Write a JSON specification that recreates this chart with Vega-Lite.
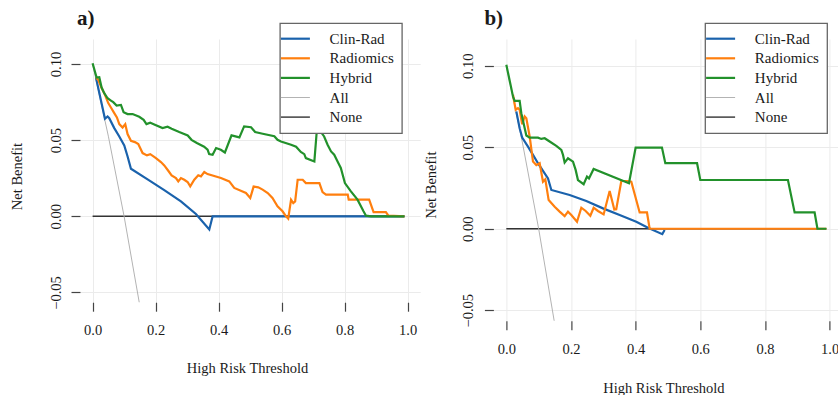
{
 "$schema": "https://vega.github.io/schema/vega-lite/v6.json",
 "padding": {"left": 9, "top": 7, "right": 0, "bottom": 0},
 "bounds": "flush",
 "spacing": 72.4,
 "config": {
  "view": {"stroke": null},
  "font": "Liberation Serif",
  "axis": {"labelFont": "Liberation Serif", "titleFont": "Liberation Serif", "labelFontSize": 14.5, "titleFontSize": 14.5, "titleFontWeight": "normal", "labelColor": "#1a1a1a", "titleColor": "#1a1a1a", "gridColor": "#ebebeb", "gridWidth": 1, "domain": false, "tickColor": "#444444", "tickSize": 9, "tickWidth": 1.2, "labelFlush": false, "labelOverlap": false},
  "legend": {"strokeWidth": 1.3, "padding": 8, "labelOffset": 26.7, "symbolOffset": 0, "rowPadding": 3.6, "strokeColor": "#666666", "fillColor": "#ffffff", "labelFont": "Liberation Serif", "labelFontSize": 15, "labelColor": "#1a1a1a", "symbolType": "stroke", "symbolSize": 841, "symbolStrokeWidth": 2.2}
 },
 "resolve": {"scale": {"x": "independent", "y": "independent", "color": "independent"}, "legend": {"color": "independent"}},
 "datasets": {
  "a": [
   {"model": "None", "t": 0, "nb": 0}, {"model": "None", "t": 0.99, "nb": 0},
   {"model": "All", "t": 0, "nb": 0.1}, {"model": "All", "t": 0.05, "nb": 0.0526}, {"model": "All", "t": 0.1, "nb": 0}, {"model": "All", "t": 0.15, "nb": -0.0588},
   {"model": "Clin-Rad", "t": 0.0106, "nb": 0.0911}, {"model": "Clin-Rad", "t": 0.0392, "nb": 0.064}, {"model": "Clin-Rad", "t": 0.0476, "nb": 0.0655}, {"model": "Clin-Rad", "t": 0.0529, "nb": 0.0644}, {"model": "Clin-Rad", "t": 0.0688, "nb": 0.0579}, {"model": "Clin-Rad", "t": 0.0847, "nb": 0.0524}, {"model": "Clin-Rad", "t": 0.1005, "nb": 0.0465}, {"model": "Clin-Rad", "t": 0.1111, "nb": 0.0393}, {"model": "Clin-Rad", "t": 0.1217, "nb": 0.0312}, {"model": "Clin-Rad", "t": 0.1746, "nb": 0.0242}, {"model": "Clin-Rad", "t": 0.2275, "nb": 0.0172}, {"model": "Clin-Rad", "t": 0.2804, "nb": 0.0098}, {"model": "Clin-Rad", "t": 0.328, "nb": 0.0015}, {"model": "Clin-Rad", "t": 0.3704, "nb": -0.0087}, {"model": "Clin-Rad", "t": 0.381, "nb": 0}, {"model": "Clin-Rad", "t": 0.99, "nb": 0},
   {"model": "Radiomics", "t": 0.0106, "nb": 0.0911}, {"model": "Radiomics", "t": 0.018, "nb": 0.0896}, {"model": "Radiomics", "t": 0.0265, "nb": 0.0852}, {"model": "Radiomics", "t": 0.0392, "nb": 0.0797}, {"model": "Radiomics", "t": 0.0497, "nb": 0.0743}, {"model": "Radiomics", "t": 0.0582, "nb": 0.0714}, {"model": "Radiomics", "t": 0.0688, "nb": 0.0677}, {"model": "Radiomics", "t": 0.0772, "nb": 0.0649}, {"model": "Radiomics", "t": 0.0847, "nb": 0.0605}, {"model": "Radiomics", "t": 0.0952, "nb": 0.0583}, {"model": "Radiomics", "t": 0.1037, "nb": 0.0605}, {"model": "Radiomics", "t": 0.111, "nb": 0.054}, {"model": "Radiomics", "t": 0.1217, "nb": 0.0496}, {"model": "Radiomics", "t": 0.1344, "nb": 0.0487}, {"model": "Radiomics", "t": 0.145, "nb": 0.0474}, {"model": "Radiomics", "t": 0.1587, "nb": 0.0415}, {"model": "Radiomics", "t": 0.1725, "nb": 0.04}, {"model": "Radiomics", "t": 0.1831, "nb": 0.0408}, {"model": "Radiomics", "t": 0.2011, "nb": 0.0382}, {"model": "Radiomics", "t": 0.2169, "nb": 0.0356}, {"model": "Radiomics", "t": 0.2275, "nb": 0.0334}, {"model": "Radiomics", "t": 0.2402, "nb": 0.0299}, {"model": "Radiomics", "t": 0.2508, "nb": 0.0269}, {"model": "Radiomics", "t": 0.2646, "nb": 0.0251}, {"model": "Radiomics", "t": 0.272, "nb": 0.0229}, {"model": "Radiomics", "t": 0.2804, "nb": 0.0251}, {"model": "Radiomics", "t": 0.291, "nb": 0.024}, {"model": "Radiomics", "t": 0.3016, "nb": 0.0225}, {"model": "Radiomics", "t": 0.31, "nb": 0.0197}, {"model": "Radiomics", "t": 0.3228, "nb": 0.024}, {"model": "Radiomics", "t": 0.3354, "nb": 0.0269}, {"model": "Radiomics", "t": 0.3439, "nb": 0.0262}, {"model": "Radiomics", "t": 0.3545, "nb": 0.0291}, {"model": "Radiomics", "t": 0.365, "nb": 0.0277}, {"model": "Radiomics", "t": 0.4074, "nb": 0.0251}, {"model": "Radiomics", "t": 0.4339, "nb": 0.0229}, {"model": "Radiomics", "t": 0.4497, "nb": 0.0186}, {"model": "Radiomics", "t": 0.4868, "nb": 0.0153}, {"model": "Radiomics", "t": 0.5005, "nb": 0.012}, {"model": "Radiomics", "t": 0.5111, "nb": 0.0195}, {"model": "Radiomics", "t": 0.526, "nb": 0.019}, {"model": "Radiomics", "t": 0.5397, "nb": 0.0175}, {"model": "Radiomics", "t": 0.556, "nb": 0.0153}, {"model": "Radiomics", "t": 0.571, "nb": 0.012}, {"model": "Radiomics", "t": 0.587, "nb": 0.0066}, {"model": "Radiomics", "t": 0.603, "nb": 0.0033}, {"model": "Radiomics", "t": 0.614, "nb": 0}, {"model": "Radiomics", "t": 0.621, "nb": -0.0015}, {"model": "Radiomics", "t": 0.63, "nb": 0.0109}, {"model": "Radiomics", "t": 0.637, "nb": 0.0087}, {"model": "Radiomics", "t": 0.643, "nb": 0.0098}, {"model": "Radiomics", "t": 0.651, "nb": 0.024}, {"model": "Radiomics", "t": 0.667, "nb": 0.024}, {"model": "Radiomics", "t": 0.677, "nb": 0.0218}, {"model": "Radiomics", "t": 0.72, "nb": 0.0218}, {"model": "Radiomics", "t": 0.73, "nb": 0.0159}, {"model": "Radiomics", "t": 0.741, "nb": 0.0142}, {"model": "Radiomics", "t": 0.81, "nb": 0.0142}, {"model": "Radiomics", "t": 0.813, "nb": 0.0109}, {"model": "Radiomics", "t": 0.878, "nb": 0.0109}, {"model": "Radiomics", "t": 0.892, "nb": 0.0028}, {"model": "Radiomics", "t": 0.931, "nb": 0.0028}, {"model": "Radiomics", "t": 0.939, "nb": 0.0004}, {"model": "Radiomics", "t": 0.99, "nb": 0},
   {"model": "Hybrid", "t": 0, "nb": 0.1005}, {"model": "Hybrid", "t": 0.0127, "nb": 0.0911}, {"model": "Hybrid", "t": 0.0212, "nb": 0.0913}, {"model": "Hybrid", "t": 0.0286, "nb": 0.0845}, {"model": "Hybrid", "t": 0.037, "nb": 0.0808}, {"model": "Hybrid", "t": 0.0476, "nb": 0.0775}, {"model": "Hybrid", "t": 0.0582, "nb": 0.076}, {"model": "Hybrid", "t": 0.0656, "nb": 0.0749}, {"model": "Hybrid", "t": 0.0762, "nb": 0.0727}, {"model": "Hybrid", "t": 0.09, "nb": 0.0731}, {"model": "Hybrid", "t": 0.0984, "nb": 0.0684}, {"model": "Hybrid", "t": 0.111, "nb": 0.0671}, {"model": "Hybrid", "t": 0.127, "nb": 0.0671}, {"model": "Hybrid", "t": 0.148, "nb": 0.0653}, {"model": "Hybrid", "t": 0.162, "nb": 0.0633}, {"model": "Hybrid", "t": 0.171, "nb": 0.0605}, {"model": "Hybrid", "t": 0.183, "nb": 0.0614}, {"model": "Hybrid", "t": 0.194, "nb": 0.0605}, {"model": "Hybrid", "t": 0.222, "nb": 0.0579}, {"model": "Hybrid", "t": 0.238, "nb": 0.0588}, {"model": "Hybrid", "t": 0.251, "nb": 0.0575}, {"model": "Hybrid", "t": 0.275, "nb": 0.0553}, {"model": "Hybrid", "t": 0.302, "nb": 0.0531}, {"model": "Hybrid", "t": 0.314, "nb": 0.0502}, {"model": "Hybrid", "t": 0.331, "nb": 0.0481}, {"model": "Hybrid", "t": 0.354, "nb": 0.0457}, {"model": "Hybrid", "t": 0.365, "nb": 0.0437}, {"model": "Hybrid", "t": 0.37, "nb": 0.0408}, {"model": "Hybrid", "t": 0.381, "nb": 0.0404}, {"model": "Hybrid", "t": 0.392, "nb": 0.0448}, {"model": "Hybrid", "t": 0.407, "nb": 0.0437}, {"model": "Hybrid", "t": 0.42, "nb": 0.0419}, {"model": "Hybrid", "t": 0.441, "nb": 0.0531}, {"model": "Hybrid", "t": 0.466, "nb": 0.0518}, {"model": "Hybrid", "t": 0.481, "nb": 0.059}, {"model": "Hybrid", "t": 0.503, "nb": 0.0585}, {"model": "Hybrid", "t": 0.516, "nb": 0.0553}, {"model": "Hybrid", "t": 0.54, "nb": 0.0542}, {"model": "Hybrid", "t": 0.577, "nb": 0.0526}, {"model": "Hybrid", "t": 0.587, "nb": 0.0502}, {"model": "Hybrid", "t": 0.598, "nb": 0.0491}, {"model": "Hybrid", "t": 0.63, "nb": 0.047}, {"model": "Hybrid", "t": 0.646, "nb": 0.0457}, {"model": "Hybrid", "t": 0.661, "nb": 0.0422}, {"model": "Hybrid", "t": 0.672, "nb": 0.0408}, {"model": "Hybrid", "t": 0.677, "nb": 0.0382}, {"model": "Hybrid", "t": 0.698, "nb": 0.0365}, {"model": "Hybrid", "t": 0.704, "nb": 0.036}, {"model": "Hybrid", "t": 0.712, "nb": 0.0568}, {"model": "Hybrid", "t": 0.72, "nb": 0.0568}, {"model": "Hybrid", "t": 0.735, "nb": 0.0524}, {"model": "Hybrid", "t": 0.746, "nb": 0.047}, {"model": "Hybrid", "t": 0.757, "nb": 0.0426}, {"model": "Hybrid", "t": 0.767, "nb": 0.0404}, {"model": "Hybrid", "t": 0.78, "nb": 0.035}, {"model": "Hybrid", "t": 0.788, "nb": 0.0317}, {"model": "Hybrid", "t": 0.801, "nb": 0.0218}, {"model": "Hybrid", "t": 0.82, "nb": 0.0164}, {"model": "Hybrid", "t": 0.841, "nb": 0.0109}, {"model": "Hybrid", "t": 0.86, "nb": 0.0033}, {"model": "Hybrid", "t": 0.868, "nb": 0.0004}, {"model": "Hybrid", "t": 0.884, "nb": 0}, {"model": "Hybrid", "t": 0.99, "nb": 0}
  ],
  "b": [
   {"model": "None", "t": 0, "nb": 0}, {"model": "None", "t": 0.99, "nb": 0},
   {"model": "All", "t": 0, "nb": 0.1}, {"model": "All", "t": 0.05, "nb": 0.0526}, {"model": "All", "t": 0.1, "nb": 0}, {"model": "All", "t": 0.15, "nb": -0.0588},
   {"model": "Clin-Rad", "t": 0.0309, "nb": 0.0719}, {"model": "Clin-Rad", "t": 0.0412, "nb": 0.0617}, {"model": "Clin-Rad", "t": 0.049, "nb": 0.0559}, {"model": "Clin-Rad", "t": 0.067, "nb": 0.0504}, {"model": "Clin-Rad", "t": 0.0825, "nb": 0.0453}, {"model": "Clin-Rad", "t": 0.0979, "nb": 0.0402}, {"model": "Clin-Rad", "t": 0.1134, "nb": 0.0355}, {"model": "Clin-Rad", "t": 0.1289, "nb": 0.0309}, {"model": "Clin-Rad", "t": 0.1392, "nb": 0.0238}, {"model": "Clin-Rad", "t": 0.1959, "nb": 0.0207}, {"model": "Clin-Rad", "t": 0.2474, "nb": 0.017}, {"model": "Clin-Rad", "t": 0.299, "nb": 0.0125}, {"model": "Clin-Rad", "t": 0.3505, "nb": 0.0084}, {"model": "Clin-Rad", "t": 0.402, "nb": 0.0043}, {"model": "Clin-Rad", "t": 0.4381, "nb": 0.0006}, {"model": "Clin-Rad", "t": 0.4825, "nb": -0.0033}, {"model": "Clin-Rad", "t": 0.4897, "nb": -0.0008},
   {"model": "Radiomics", "t": 0.0206, "nb": 0.0822}, {"model": "Radiomics", "t": 0.0289, "nb": 0.073}, {"model": "Radiomics", "t": 0.0361, "nb": 0.074}, {"model": "Radiomics", "t": 0.0412, "nb": 0.073}, {"model": "Radiomics", "t": 0.049, "nb": 0.0641}, {"model": "Radiomics", "t": 0.0567, "nb": 0.0689}, {"model": "Radiomics", "t": 0.0619, "nb": 0.0678}, {"model": "Radiomics", "t": 0.0722, "nb": 0.0566}, {"model": "Radiomics", "t": 0.0825, "nb": 0.0412}, {"model": "Radiomics", "t": 0.0928, "nb": 0.0391}, {"model": "Radiomics", "t": 0.1031, "nb": 0.0402}, {"model": "Radiomics", "t": 0.1134, "nb": 0.0289}, {"model": "Radiomics", "t": 0.1206, "nb": 0.0303}, {"model": "Radiomics", "t": 0.1309, "nb": 0.0176}, {"model": "Radiomics", "t": 0.1495, "nb": 0.0135}, {"model": "Radiomics", "t": 0.1649, "nb": 0.0105}, {"model": "Radiomics", "t": 0.1804, "nb": 0.0078}, {"model": "Radiomics", "t": 0.1907, "nb": 0.0105}, {"model": "Radiomics", "t": 0.201, "nb": 0.0084}, {"model": "Radiomics", "t": 0.2186, "nb": 0.0043}, {"model": "Radiomics", "t": 0.232, "nb": 0.0129}, {"model": "Radiomics", "t": 0.2454, "nb": 0.0109}, {"model": "Radiomics", "t": 0.2598, "nb": 0.008}, {"model": "Radiomics", "t": 0.2701, "nb": 0.0129}, {"model": "Radiomics", "t": 0.2835, "nb": 0.0109}, {"model": "Radiomics", "t": 0.301, "nb": 0.0088}, {"model": "Radiomics", "t": 0.3196, "nb": 0.0232}, {"model": "Radiomics", "t": 0.334, "nb": 0.0118}, {"model": "Radiomics", "t": 0.34, "nb": 0.012}, {"model": "Radiomics", "t": 0.3557, "nb": 0.0293}, {"model": "Radiomics", "t": 0.3732, "nb": 0.0293}, {"model": "Radiomics", "t": 0.3866, "nb": 0.0289}, {"model": "Radiomics", "t": 0.4124, "nb": 0.01}, {"model": "Radiomics", "t": 0.4351, "nb": 0.01}, {"model": "Radiomics", "t": 0.4433, "nb": 0}, {"model": "Radiomics", "t": 0.99, "nb": 0},
   {"model": "Hybrid", "t": 0, "nb": 0.1006}, {"model": "Hybrid", "t": 0.0206, "nb": 0.0811}, {"model": "Hybrid", "t": 0.0258, "nb": 0.0785}, {"model": "Hybrid", "t": 0.0412, "nb": 0.0785}, {"model": "Hybrid", "t": 0.0464, "nb": 0.0709}, {"model": "Hybrid", "t": 0.0619, "nb": 0.0572}, {"model": "Hybrid", "t": 0.0722, "nb": 0.0559}, {"model": "Hybrid", "t": 0.0979, "nb": 0.0559}, {"model": "Hybrid", "t": 0.1082, "nb": 0.0551}, {"model": "Hybrid", "t": 0.1186, "nb": 0.0555}, {"model": "Hybrid", "t": 0.134, "nb": 0.0535}, {"model": "Hybrid", "t": 0.1546, "nb": 0.0508}, {"model": "Hybrid", "t": 0.1701, "nb": 0.0484}, {"model": "Hybrid", "t": 0.1753, "nb": 0.0453}, {"model": "Hybrid", "t": 0.1804, "nb": 0.0406}, {"model": "Hybrid", "t": 0.1907, "nb": 0.0432}, {"model": "Hybrid", "t": 0.2062, "nb": 0.0412}, {"model": "Hybrid", "t": 0.2144, "nb": 0.0361}, {"model": "Hybrid", "t": 0.2216, "nb": 0.0299}, {"model": "Hybrid", "t": 0.2392, "nb": 0.0273}, {"model": "Hybrid", "t": 0.2495, "nb": 0.032}, {"model": "Hybrid", "t": 0.2557, "nb": 0.0309}, {"model": "Hybrid", "t": 0.27, "nb": 0.0367}, {"model": "Hybrid", "t": 0.3794, "nb": 0.0279}, {"model": "Hybrid", "t": 0.4, "nb": 0.0498}, {"model": "Hybrid", "t": 0.4814, "nb": 0.0498}, {"model": "Hybrid", "t": 0.4918, "nb": 0.0402}, {"model": "Hybrid", "t": 0.59, "nb": 0.0402}, {"model": "Hybrid", "t": 0.6, "nb": 0.0299}, {"model": "Hybrid", "t": 0.8711, "nb": 0.0299}, {"model": "Hybrid", "t": 0.8918, "nb": 0.01}, {"model": "Hybrid", "t": 0.9536, "nb": 0.01}, {"model": "Hybrid", "t": 0.9624, "nb": 0}, {"model": "Hybrid", "t": 0.99, "nb": 0}
  ]
 },
 "hconcat": [
  {
   "width": 340.2, "height": 263.2,
   "title": {"text": "a)", "anchor": "start", "frame": "group", "dx": -3, "offset": -23, "baseline": "alphabetic", "fontSize": 21, "fontWeight": "bold", "font": "Liberation Serif", "color": "#1a1a1a"},
   "data": {"name": "a"},
   "encoding": {
    "x": {"field": "t", "type": "quantitative", "scale": {"domain": [-0.04, 1.04], "nice": false, "zero": false}, "axis": {"values": [0, 0.2, 0.4, 0.6, 0.8, 1], "format": ".1f", "title": "High Risk Threshold", "labelPadding": 12.5, "titleX": 167, "titleY": 70.5, "titleAlign": "center", "titleBaseline": "alphabetic", "grid": true}},
    "y": {"field": "nb", "type": "quantitative", "scale": {"domain": [-0.0564, 0.1164], "nice": false, "zero": false}, "axis": {"values": [-0.05, 0, 0.05, 0.1], "format": ".2f", "title": "Net Benefit", "labelAngle": -90, "labelAlign": "center", "labelBaseline": "alphabetic", "labelPadding": 11, "titleAngle": -90, "titleX": -58.4, "titleY": 137, "titleAlign": "center", "titleBaseline": "alphabetic", "grid": true}}
   },
   "layer": [
    {"data": {"values": [{}]}, "mark": {"type": "rule", "color": "#444444", "strokeWidth": 1.2}, "encoding": {"x": {"datum": 0}, "x2": {"datum": 1}, "y": {"datum": -0.0564}}},
    {"data": {"values": [{}]}, "mark": {"type": "rule", "color": "#444444", "strokeWidth": 1.2}, "encoding": {"x": {"datum": -0.04}, "y": {"datum": -0.05}, "y2": {"datum": 0.1}}},
    {"mark": {"type": "line", "clip": true}, "encoding": {
      "strokeWidth": {"condition": [{"test": "datum.model === 'All'", "value": 1}, {"test": "datum.model === 'None'", "value": 1.4}], "value": 2.2},
      "color": {"field": "model", "type": "nominal", "scale": {"domain": ["Clin-Rad", "Radiomics", "Hybrid", "All", "None"], "range": ["#1a62ac", "#ff7f0e", "#22912b", "#b3b3b3", "#333333"]}, "legend": {"orient": "none", "legendX": 199.9, "legendY": -15.8, "title": null, "padding": 8, "labelOffset": 26.7, "labelExpr": "datum.label + '\u00a0\u00a0'", "encode": {"symbols": {"update": {"strokeWidth": {"signal": "datum.value === 'All' ? 1 : datum.value === 'None' ? 1.4 : 2.2"}}}}}}}}
   ]
  },
  {
   "width": 345.9, "height": 281.7,
   "title": {"text": "b)", "anchor": "start", "frame": "group", "dx": -9, "offset": -23, "baseline": "alphabetic", "fontSize": 21, "fontWeight": "bold", "font": "Liberation Serif", "color": "#1a1a1a"},
   "data": {"name": "b"},
   "encoding": {
    "x": {"field": "t", "type": "quantitative", "scale": {"domain": [-0.04, 1.03], "nice": false, "zero": false}, "axis": {"values": [0, 0.2, 0.4, 0.6, 0.8, 1], "format": ".1f", "title": "High Risk Threshold", "labelPadding": 13, "titleX": 170, "titleY": 71.5, "titleAlign": "center", "titleBaseline": "alphabetic", "grid": true}},
    "y": {"field": "nb", "type": "quantitative", "scale": {"domain": [-0.0564, 0.1164], "nice": false, "zero": false}, "axis": {"values": [-0.05, 0, 0.05, 0.1], "format": ".2f", "title": "Net Benefit", "labelAngle": -90, "labelAlign": "center", "labelBaseline": "alphabetic", "labelPadding": 12, "titleAngle": -90, "titleX": -57.5, "titleY": 145.7, "titleAlign": "center", "titleBaseline": "alphabetic", "grid": true}}
   },
   "layer": [
    {"data": {"values": [{}]}, "mark": {"type": "rule", "color": "#444444", "strokeWidth": 1.2}, "encoding": {"x": {"datum": 0}, "x2": {"datum": 1}, "y": {"datum": -0.0564}}},
    {"data": {"values": [{}]}, "mark": {"type": "rule", "color": "#444444", "strokeWidth": 1.2}, "encoding": {"x": {"datum": -0.04}, "y": {"datum": -0.05}, "y2": {"datum": 0.1}}},
    {"mark": {"type": "line", "clip": true}, "encoding": {
      "strokeWidth": {"condition": [{"test": "datum.model === 'All'", "value": 1}, {"test": "datum.model === 'None'", "value": 1.4}], "value": 2.2},
      "color": {"field": "model", "type": "nominal", "scale": {"domain": ["Clin-Rad", "Radiomics", "Hybrid", "All", "None"], "range": ["#1a62ac", "#ff7f0e", "#22912b", "#b3b3b3", "#333333"]}, "legend": {"orient": "none", "legendX": 211.7, "legendY": -15.8, "title": null, "padding": 8, "labelOffset": 26.7, "labelExpr": "datum.label + '\u00a0\u00a0'", "encode": {"symbols": {"update": {"strokeWidth": {"signal": "datum.value === 'All' ? 1 : datum.value === 'None' ? 1.4 : 2.2"}}}}}}}}
   ]
  }
 ]
}
